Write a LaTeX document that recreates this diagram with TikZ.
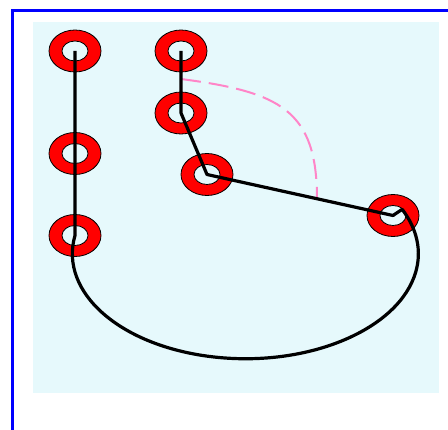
\documentclass[tikz,border=0pt]{standalone}
\usetikzlibrary{shapes.geometric}
\definecolor{bgcyan}{HTML}{E6F9FC}
\definecolor{markpink}{HTML}{FF85C8}
\begin{document}
\begin{tikzpicture}[x=1pt,y=-1pt,
    ring/.style={ellipse,draw=black,line width=0.8pt,fill=red,inner sep=0pt,
        minimum width=52pt,minimum height=42pt,
        path picture={\draw[fill=bgcyan,line width=0.8pt] (path picture bounding box.center)
            ellipse [x radius=13pt,y radius=10pt];}},
    wire/.style={line width=3.2pt,line join=round},
    marker/.style={markpink,line width=2pt,dash pattern=on 20pt off 8pt}]
    \useasboundingbox (0,0) rectangle (448,430);
    % Panel
    \fill[bgcyan] (33,22) rectangle (439,393);
    \draw[blue,line width=3.2pt] (12.5,430) -- (12.5,10.5) -- (448,10.5);
    % Rings
    \node[ring] (a) at (75,51) {};
    \node[ring] (b) at (75,153.5) {};
    \node[ring] (c) at (75,235.5) {};
    \node[ring] (d) at (181,51) {};
    \node[ring] (e) at (181,113) {};
    \node[ring] (f) at (207,174.5) {};
    \node[ring] (g) at (393,215.5) {};
    % Angle mark
    \coordinate (m1) at (181,79);
    \coordinate (m2) at (317,199);
    \draw[marker] (m1) .. controls (280,92) and (317,110) .. (m2);
    % Wire
    \draw[wire] (a.center) -- (b.center) -- (c.center)
        arc[start angle=170,end angle=385,x radius=173pt,y radius=105pt]
        -- (g.center) -- (f.center) -- (e.center) -- (d.center);
\end{tikzpicture}
\end{document}
